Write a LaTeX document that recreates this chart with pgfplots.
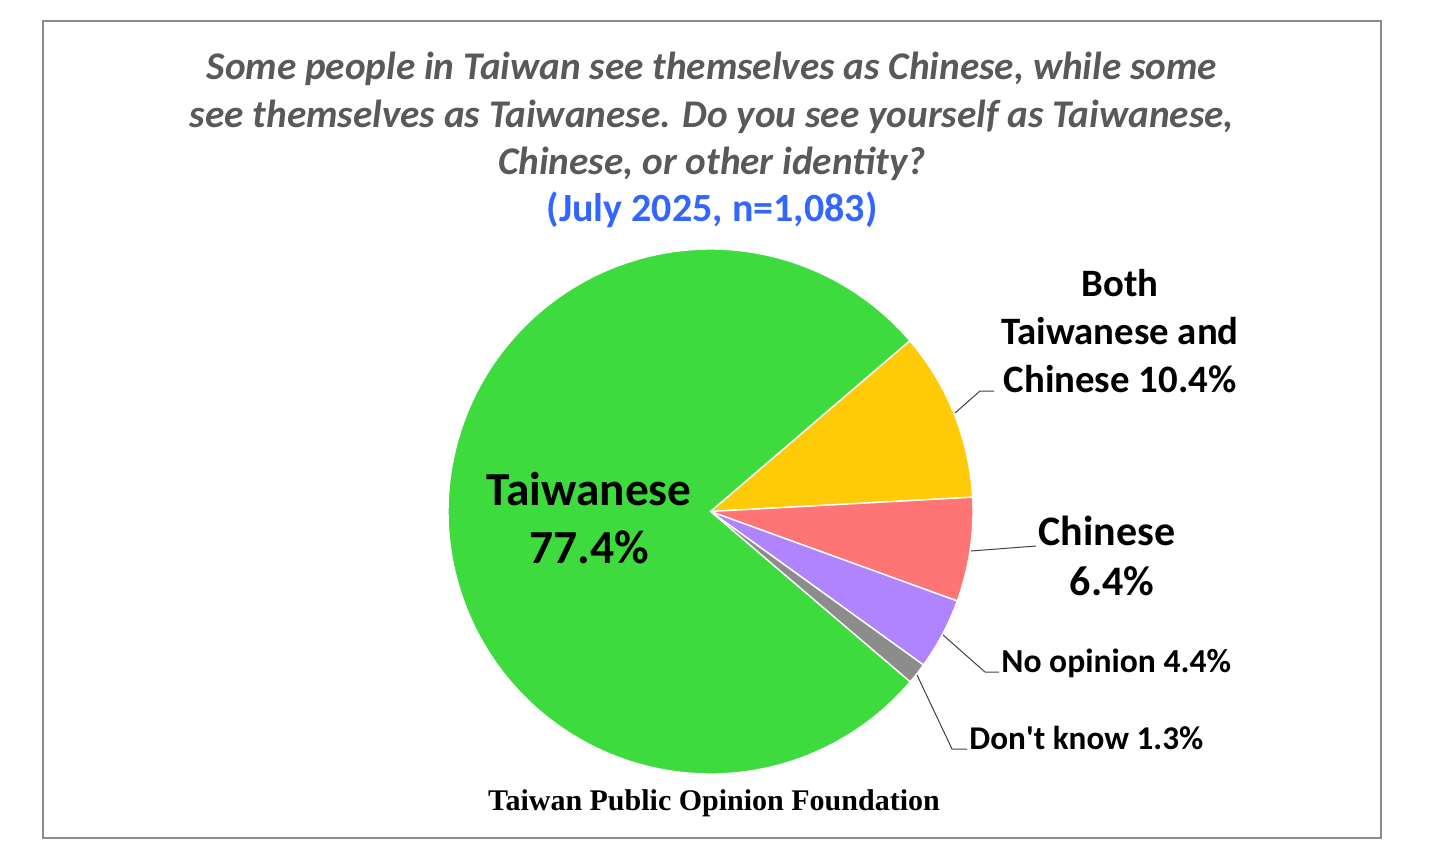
\documentclass[border=0pt]{standalone}
\usepackage{pgfplots}
\usepackage{pgfplotstable}
\pgfplotsset{compat=1.18}
\usepackage{fontspec}
\setmainfont{Carlito}
\newfontfamily\footfont{Liberation Serif}
\definecolor{cTai}{RGB}{62,219,62}
\definecolor{cBoth}{RGB}{255,202,8}
\definecolor{cChi}{RGB}{255,117,117}
\definecolor{cNo}{RGB}{176,132,255}
\definecolor{cDK}{RGB}{140,140,140}
\definecolor{titlegray}{RGB}{89,89,89}
\definecolor{subblue}{RGB}{51,102,255}
\definecolor{framegray}{RGB}{140,140,140}
\definecolor{leader}{RGB}{64,64,64}

\pgfplotstableread{
label value
Both 10.4
Chinese 6.4
NoOpinion 4.4
DontKnow 1.3
Taiwanese 77.4
}\piedata

\begin{document}
\begin{tikzpicture}
% cumulative angles from the table (clockwise from the start angle)
\xdef\total{0}
\foreach \i in {0,...,4}{%
  \pgfplotstablegetelem{\i}{value}\of\piedata
  \pgfmathparse{\total+\pgfplotsretval}\xdef\total{\pgfmathresult}}
\xdef\angleStart{40.6}
\xdef\cum{\angleStart}
\foreach \i/\n in {0/a,1/b,2/c,3/d,4/e}{%
  \pgfplotstablegetelem{\i}{value}\of\piedata
  \pgfmathparse{\cum-(\pgfplotsretval/\total)*360}\xdef\cum{\pgfmathresult}%
  \expandafter\xdef\csname angle\n\endcsname{\cum}}
\begin{axis}[width=728pt,height=430.5pt,scale only axis,
  xmin=0,xmax=1456,ymin=0,ymax=861,y dir=reverse,hide axis,clip=false]
\path (axis cs:0,0) rectangle (axis cs:1456,861);
% frame
\draw[framegray,line width=1.1pt] (axis cs:43,21) rectangle (axis cs:1381,838);
% slices
\addplot[fill=cBoth,draw=white,line width=0.7pt,domain=\anglea:\angleStart,samples=80,variable=\t]
  ({710.5+262.5*cos(\t)},{511.5-262.5*sin(\t)}) -- (axis cs:710.5,511.5) -- cycle;
\addplot[fill=cChi,draw=white,line width=0.7pt,domain=\angleb:\anglea,samples=60,variable=\t]
  ({710.5+262.5*cos(\t)},{511.5-262.5*sin(\t)}) -- (axis cs:710.5,511.5) -- cycle;
\addplot[fill=cNo,draw=white,line width=0.7pt,domain=\anglec:\angleb,samples=50,variable=\t]
  ({710.5+262.5*cos(\t)},{511.5-262.5*sin(\t)}) -- (axis cs:710.5,511.5) -- cycle;
\addplot[fill=cDK,draw=white,line width=0.7pt,domain=\angled:\anglec,samples=20,variable=\t]
  ({710.5+262.5*cos(\t)},{511.5-262.5*sin(\t)}) -- (axis cs:710.5,511.5) -- cycle;
\addplot[fill=cTai,draw=white,line width=0.7pt,domain=\anglee:\angled,samples=300,variable=\t]
  ({710.5+262.5*cos(\t)},{511.5-262.5*sin(\t)}) -- (axis cs:710.5,511.5) -- cycle;
% leader lines
\draw[leader,line width=0.5pt] (axis cs:955,413) -- (axis cs:980,391) -- (axis cs:994,391);
\draw[leader,line width=0.5pt] (axis cs:971,551) -- (axis cs:1036,546);
\draw[leader,line width=0.5pt] (axis cs:943,635) -- (axis cs:985,672) -- (axis cs:999,672);
\draw[leader,line width=0.5pt] (axis cs:917,675) -- (axis cs:952,749) -- (axis cs:967,749);
% title
\begin{scope}[every node/.style={anchor=base,inner sep=0pt,font=\fontsize{19.6pt}{22pt}\selectfont\bfseries\itshape,text=titlegray}]
\node at (axis cs:712,80) {Some people in Taiwan see themselves as Chinese, while some};
\node at (axis cs:712,128) {see themselves as Taiwanese. Do you see yourself as Taiwanese,};
\node at (axis cs:712,175) {Chinese, or other identity?};
\end{scope}
\node[anchor=base,inner sep=0pt,font=\fontsize{20pt}{22pt}\selectfont\bfseries,text=subblue] at (axis cs:712,222) {(July 2025, n=1,083)};
% labels
\begin{scope}[every node/.style={anchor=base,inner sep=0pt,text=black}]
\node[font=\fontsize{23.7pt}{26pt}\selectfont\bfseries] at (axis cs:589,505) {Taiwanese};
\node[font=\fontsize{23.7pt}{26pt}\selectfont\bfseries] at (axis cs:589,563) {77.4\%};
\node[font=\fontsize{19.4pt}{22pt}\selectfont\bfseries] at (axis cs:1120,297) {Both};
\node[font=\fontsize{19.4pt}{22pt}\selectfont\bfseries] at (axis cs:1120,344) {Taiwanese and};
\node[font=\fontsize{19.4pt}{22pt}\selectfont\bfseries] at (axis cs:1120,392) {Chinese 10.4\%};
\node[font=\fontsize{21pt}{22pt}\selectfont\bfseries] at (axis cs:1107,545) {Chinese};
\node[font=\fontsize{21pt}{22pt}\selectfont\bfseries] at (axis cs:1112,595) {6.4\%};
\node[anchor=base west,font=\fontsize{16.8pt}{18pt}\selectfont\bfseries] at (axis cs:1001,672) {No opinion 4.4\%};
\node[anchor=base west,font=\fontsize{16.6pt}{18pt}\selectfont\bfseries] at (axis cs:969,749) {Don\textquotesingle t know 1.3\%};
\node[font=\fontsize{15pt}{17pt}\selectfont\footfont\bfseries] at (axis cs:714,810) {Taiwan Public Opinion Foundation};
\end{scope}
\end{axis}
\end{tikzpicture}
\end{document}
